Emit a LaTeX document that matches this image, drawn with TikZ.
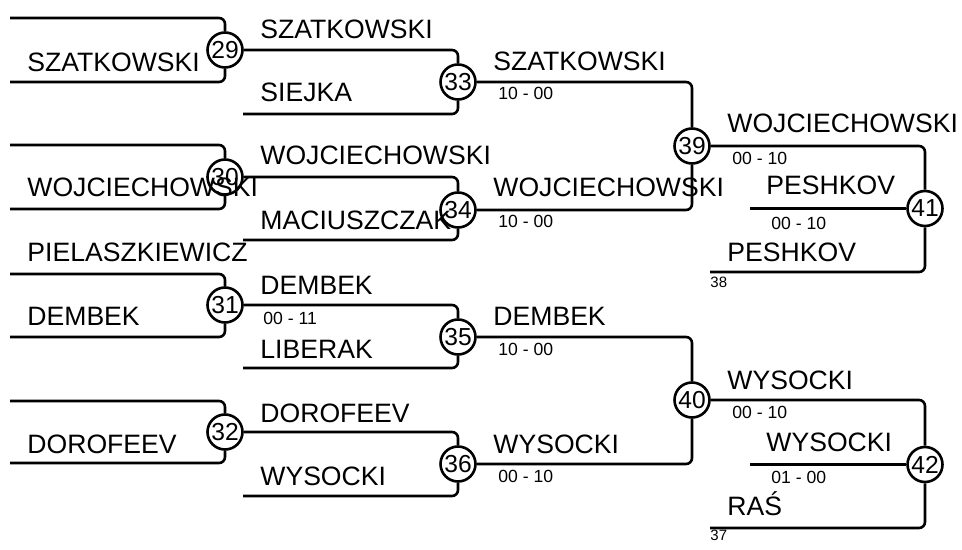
\documentclass[tikz,border=0pt]{standalone}
\usepackage{fontspec}
\setmainfont{Liberation Sans}
\usetikzlibrary{positioning}

\begin{document}
\begin{tikzpicture}[x=0.5pt, y=-0.5pt,
			match/.style={circle, draw=black, fill=white, line width=1.3pt, inner sep=0pt, minimum size=17.5pt, font=\fontsize{12.3}{12.3}\selectfont},
			wire/.style={draw=black, line width=1.3pt, rounded corners=3pt},
			player/.style={anchor=base west, inner sep=0pt, font=\fontsize{13.3}{13.3}\selectfont},
			score/.style={anchor=base west, inner sep=0pt, font=\fontsize{8.8}{8.8}\selectfont},
			seed/.style={anchor=base west, inner sep=0pt, font=\fontsize{7.5}{7.5}\selectfont}
		]
		\useasboundingbox (0,0) rectangle (962,550);

		% Round 1
		\foreach \m/\y in {29/50, 30/177, 31/305, 32/432} \node[match] (m\m) at (225,\y) {\m};
		\foreach \m/\t/\b in {29/18/82, 30/145/209, 31/274/337, 32/401/463} {
			\coordinate (a\m) at (10,\t);
			\coordinate (b\m) at (10,\b);
		}

		% Round 2
		\foreach \m/\y in {33/82, 34/210, 35/337, 36/464} \node[match] (m\m) at (458,\y) {\m};
		\foreach \m/\b in {33/114, 34/240, 35/368, 36/496} \coordinate (b\m) at (243,\b);

		% Semifinals and finals
		\node[match] (m39) at (692,146) {39};
		\node[match] (m40) at (692,400) {40};
		\node[match] (m41) at (925,208.5) {41};
		\node[match] (m42) at (925,464.5) {42};
		\coordinate (b41) at (710,272);
		\coordinate (c41) at (750,208.5);
		\coordinate (b42) at (710,528);
		\coordinate (c42) at (750,464.5);

		% Lines
		\foreach \m in {29,30,31,32} {
			\draw[wire] (a\m) -| (m\m);
			\draw[wire] (b\m) -| (m\m);
		}
		\foreach \m in {33,34,35,36} \draw[wire] (b\m) -| (m\m);
		\draw[wire] (m29) -| (m33);
		\draw[wire] (m30) -| (m34);
		\draw[wire] (m31) -| (m35);
		\draw[wire] (m32) -| (m36);
		\draw[wire] (m33) -| (m39);
		\draw[wire] (m34) -| (m39);
		\draw[wire] (m35) -| (m40);
		\draw[wire] (m36) -| (m40);
		\draw[wire] (m39) -| (m41);
		\draw[wire] (b41) -| (m41);
		\draw[wire] (c41) -- (m41);
		\draw[wire] (m40) -| (m42);
		\draw[wire] (b42) -| (m42);
		\draw[wire] (c42) -- (m42);

		% Players, round 1
		\node[player] (p29) at (27,72) {SZATKOWSKI};
		\node[player] (p30) at (27,197) {WOJCIECHOWSKI};
		\node[player] (p31a) at (27,262) {PIELASZKIEWICZ};
		\node[player] (p31) at (27,325) {DEMBEK};
		\node[player] (p32) at (27,453) {DOROFEEV};

		% Players, round 2
		\node[player] (p33a) at (260,39) {SZATKOWSKI};
		\node[player] (p33b) at (260,102) {SIEJKA};
		\node[player] (p34a) at (260,165) {WOJCIECHOWSKI};
		\node[player] (p34b) at (260,230) {MACIUSZCZAK};
		\node[player] (p35a) at (260,295) {DEMBEK};
		\node[score] (s31) at (263,324) {00 - 11};
		\node[player] (p35b) at (260,358) {LIBERAK};
		\node[player] (p36a) at (260,422) {DOROFEEV};
		\node[player] (p36b) at (260,485) {WYSOCKI};

		% Players, round 3
		\node[player] (p39a) at (493,71) {SZATKOWSKI};
		\node[score] (s33) at (498,100) {10 - 00};
		\node[player] (p39b) at (493,197) {WOJCIECHOWSKI};
		\node[score] (s34) at (498,228) {10 - 00};
		\node[player] (p40a) at (493,325) {DEMBEK};
		\node[score] (s35) at (498,355) {10 - 00};
		\node[player] (p40b) at (493,453) {WYSOCKI};
		\node[score] (s36) at (498,482) {00 - 10};

		% Players, round 4
		\node[player] (p41a) at (727,133) {WOJCIECHOWSKI};
		\node[score] (s39) at (732,165) {00 - 10};
		\node[player] (p41c) at (766,195) {PESHKOV};
		\node[score] (s41) at (771,230) {00 - 10};
		\node[player] (p41b) at (727,262) {PESHKOV};
		\node[seed] (r38) at (710,288) {38};
		\node[player] (p42a) at (727,389) {WYSOCKI};
		\node[score] (s40) at (732,418) {00 - 10};
		\node[player] (p42c) at (766,451) {WYSOCKI};
		\node[score] (s42) at (771,483) {01 - 00};
		\node[player] (p42b) at (727,515) {RAŚ};
		\node[seed] (r37) at (710,540) {37};
	\end{tikzpicture}
\end{document}
